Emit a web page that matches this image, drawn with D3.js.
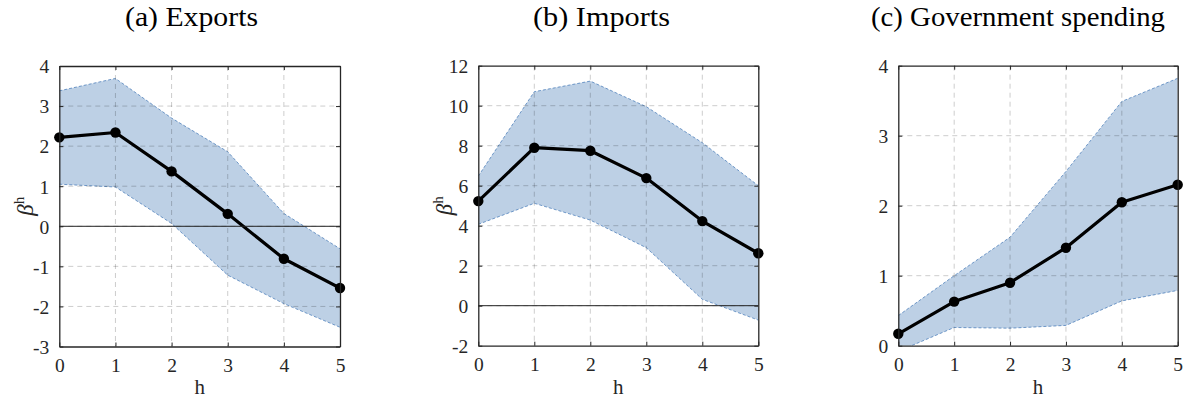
<!DOCTYPE html>
<html>
<head>
<meta charset="utf-8">
<script src="https://cdn.jsdelivr.net/npm/d3@7"></script>
<style>
  html, body { margin: 0; padding: 0; background: #fff; }
  svg { display: block; }
  svg text { font-family: "Liberation Serif", "Times New Roman", serif; }
</style>
</head>
<body>
<svg id="chart" width="1186" height="402"></svg>
<script>
// ---- data ----
const horizons = [0, 1, 2, 3, 4, 5];

const titles = ["(a) Exports", "(b) Imports", "(c) Government spending"];

const exportsBeta  = [2.22, 2.34, 1.37, 0.31, -0.81, -1.54];
const exportsUpper = [3.38, 3.69, 2.70, 1.86, 0.32, -0.56];
const exportsLower = [1.05, 0.98, 0.07, -1.22, -1.93, -2.52];

const importsBeta  = [5.23, 7.90, 7.75, 6.38, 4.23, 2.62];
const importsUpper = [6.48, 10.70, 11.23, 9.95, 8.15, 6.00];
const importsLower = [4.07, 5.12, 4.28, 2.90, 0.32, -0.72];

const govBeta  = [0.17, 0.63, 0.90, 1.40, 2.05, 2.30];
const govUpper = [0.43, 1.00, 1.55, 2.49, 3.49, 3.82];
const govLower = [-0.08, 0.26, 0.25, 0.29, 0.64, 0.79];

const exportsTicks = [-3, -2, -1, 0, 1, 2, 3, 4];
const importsTicks = [-2, 0, 2, 4, 6, 8, 10, 12];
const govTicks     = [0, 1, 2, 3, 4];

// ---- layout ----
const panels = [
  { title: titles[0], beta: exportsBeta, up: exportsUpper, lo: exportsLower, ticks: exportsTicks,
    x0: 59.3, x1: 340, y0: 66, y1: 346.5, titleX: 191.5, titleW: 133, ylabel: true, ylabX: 25, zero: true },
  { title: titles[1], beta: importsBeta, up: importsUpper, lo: importsLower, ticks: importsTicks,
    x0: 478.3, x1: 758.3, y0: 65.7, y1: 345.7, titleX: 601.5, titleW: 137, ylabel: true, ylabX: 444, zero: true },
  { title: titles[2], beta: govBeta, up: govUpper, lo: govLower, ticks: govTicks,
    x0: 898.3, x1: 1177.7, y0: 65.7, y1: 345.7, titleX: 1018, titleW: 294, ylabel: false, zero: false }
];

const svg = d3.select("#chart");
const serif = "Liberation Serif";
const axisColor = "#262626";
const fmt = d => String(d);

panels.forEach((p, i) => {
  const x = d3.scaleLinear().domain([0, 5]).range([p.x0, p.x1]);
  const y = d3.scaleLinear().domain([p.ticks[0], p.ticks[p.ticks.length - 1]]).range([p.y1, p.y0]);
  const g = svg.append("g");

  const clipId = "clip" + i;
  svg.append("clipPath").attr("id", clipId)
    .append("rect").attr("x", p.x0).attr("y", p.y0)
    .attr("width", p.x1 - p.x0).attr("height", p.y1 - p.y0);

  const plot = g.append("g").attr("clip-path", `url(#${clipId})`);

  // band
  const area = d3.area()
    .x((d, j) => x(horizons[j]))
    .y0((d, j) => y(p.lo[j]))
    .y1((d, j) => y(p.up[j]));
  plot.append("path").datum(horizons).attr("d", area)
    .attr("fill", "#bdd0e5").attr("stroke", "none");

  const edge = d3.line().x((d, j) => x(horizons[j])).y(d => y(d));
  [p.up, p.lo].forEach(arr => {
    plot.append("path").datum(arr).attr("d", edge)
      .attr("fill", "none").attr("stroke", "#3d74b4")
      .attr("stroke-width", 0.7).attr("stroke-dasharray", "3,2");
  });

  // grid
  const grid = g.append("g");
  horizons.slice(1, -1).forEach(h => {
    grid.append("line").attr("x1", x(h)).attr("x2", x(h)).attr("y1", p.y0).attr("y2", p.y1);
  });
  p.ticks.slice(1, -1).forEach(t => {
    grid.append("line").attr("x1", p.x0).attr("x2", p.x1).attr("y1", y(t)).attr("y2", y(t));
  });
  grid.selectAll("line").attr("stroke", "rgba(0,0,0,0.2)")
    .attr("stroke-width", 1).attr("stroke-dasharray", "5,4");

  // zero line
  if (p.zero) {
    g.append("line").attr("x1", p.x0).attr("x2", p.x1).attr("y1", y(0)).attr("y2", y(0))
      .attr("stroke", "#222").attr("stroke-width", 1);
  }

  // line + markers
  plot.append("path").datum(p.beta).attr("d", edge)
    .attr("fill", "none").attr("stroke", "#000").attr("stroke-width", 3.2)
    .attr("stroke-linejoin", "round");
  g.selectAll(null).data(p.beta).enter().append("circle")
    .attr("cx", (d, j) => x(horizons[j])).attr("cy", d => y(d))
    .attr("r", 5.2).attr("fill", "#000");

  // axes
  const bottom = d3.axisBottom(x).tickValues(horizons).tickFormat(fmt)
    .tickSizeInner(-4).tickSizeOuter(0).tickPadding(12);
  const left = d3.axisLeft(y).tickValues(p.ticks).tickFormat(fmt)
    .tickSizeInner(-4).tickSizeOuter(0).tickPadding(10);
  const top = d3.axisTop(x).tickValues(horizons).tickFormat("").tickSizeInner(-4).tickSizeOuter(0);
  const right = d3.axisRight(y).tickValues(p.ticks).tickFormat("").tickSizeInner(-4).tickSizeOuter(0);

  const ax = [
    g.append("g").attr("transform", `translate(0,${p.y1})`).call(bottom),
    g.append("g").attr("transform", `translate(${p.x0},0)`).call(left),
    g.append("g").attr("transform", `translate(0,${p.y0})`).call(top),
    g.append("g").attr("transform", `translate(${p.x1},0)`).call(right)
  ];
  ax.forEach(a => {
    a.attr("font-family", serif).attr("font-size", 19);
    a.select(".domain").attr("stroke", axisColor).attr("stroke-width", 1.3);
    a.selectAll(".tick line").attr("stroke", axisColor).attr("stroke-width", 1);
    a.selectAll("text").style("font-family", serif).style("font-size", "19.5px").attr("fill", axisColor);
  });
  ax[0].selectAll("text").attr("dy", null).attr("y", 25);
  ax[1].selectAll("text").attr("dy", "0.35em");

  // x label
  g.append("text").attr("x", (p.x0 + p.x1) / 2).attr("y", 394)
    .attr("text-anchor", "middle").style("font-family", serif).style("font-size", "21px")
    .attr("fill", axisColor).text("h");

  // y label
  if (p.ylabel) {
    const cy = (p.y0 + p.y1) / 2;
    const t = g.append("text")
      .attr("transform", `translate(${p.ylabX + 8},${cy}) rotate(-90)`)
      .attr("text-anchor", "middle").style("font-family", serif).style("font-size", "23px")
      .attr("fill", axisColor);
    t.append("tspan").attr("font-style", "italic").text("β");
    t.append("tspan").attr("dy", -9).style("font-size", "15px").text("h");
  }

  // title
  svg.append("text").attr("x", p.titleX).attr("y", 26)
    .attr("text-anchor", "middle").style("font-family", serif).style("font-size", "27px")
    .attr("fill", "#000")
    .attr("textLength", p.titleW).attr("lengthAdjust", "spacingAndGlyphs")
    .text(p.title);
});
</script>
</body>
</html>
